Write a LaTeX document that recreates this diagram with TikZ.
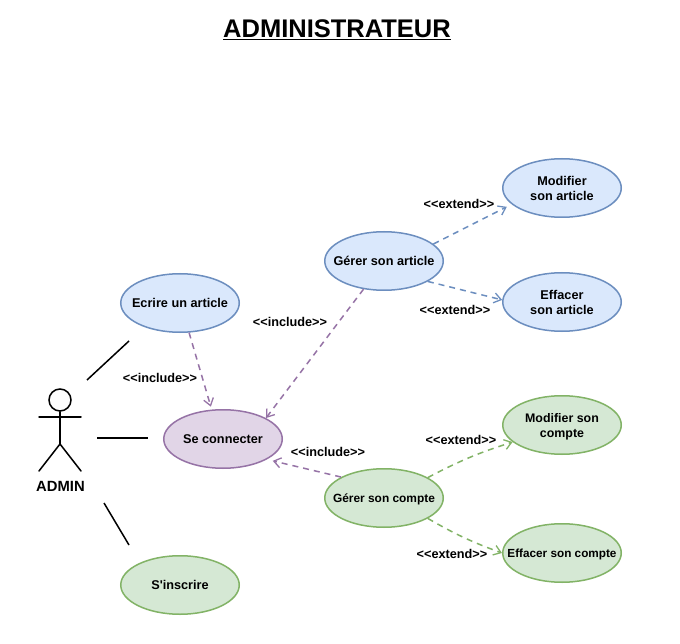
\documentclass[tikz,border=0pt]{standalone}
\usepackage{fontspec}
\usetikzlibrary{shapes.geometric,arrows.meta}
\newfontfamily\labfont{Liberation Sans}
\definecolor{bfill}{HTML}{DAE8FC}\definecolor{bline}{HTML}{6C8EBF}
\definecolor{pfill}{HTML}{E1D5E7}\definecolor{pline}{HTML}{9673A6}
\definecolor{gfill}{HTML}{D5E8D4}\definecolor{gline}{HTML}{82B366}
\newcommand{\tl}{\rule[-3pt]{0pt}{15.5pt}}
\tikzset{
  x=1pt,y=-1pt,
  usecase/.style={ellipse,draw,line width=1.5pt,minimum width=118.5pt,minimum height=58.5pt,inner xsep=-30pt,inner ysep=0pt,align=center,font=\labfont\bfseries\fontsize{12.7}{15}\selectfont,text=black},
  bluecase/.style={usecase,fill=bfill,draw=bline},
  purplecase/.style={usecase,fill=pfill,draw=pline},
  greencase/.style={usecase,fill=gfill,draw=gline},
  dep/.style={dash pattern=on 6pt off 5pt,line width=1.5pt,-{Straight Barb[length=7pt,width=10pt,line width=1.3pt]}},
  lbl/.style={font=\labfont\bfseries\fontsize{12.7}{14}\selectfont,inner sep=0pt,text=black},
  assoc/.style={line width=1.5pt,black},
  stick/.style={line width=1.5pt,black,line cap=round}
}
\begin{document}
\begin{tikzpicture}
\useasboundingbox (0,0) rectangle (680,644);
\fill[white] (0,0) rectangle (680,644);
\node[inner sep=0pt,font=\labfont\bfseries\fontsize{25.5}{28}\selectfont] (title) at (337,30) {\underline{ADMINISTRATEUR}};
\node[bluecase] (ecrire) at (180,303) {\tl Ecrire un article};
\node[purplecase] (conn) at (223,439) {\tl Se connecter};
\node[bluecase] (garticle) at (384,261) {\tl Gérer son article};
\node[bluecase] (marticle) at (562,188) {\tl Modifier\\[-1.5pt]\tl son article};
\node[bluecase] (earticle) at (562,302) {\tl Effacer\\[-1.5pt]\tl son article};
\node[greencase,font=\labfont\bfseries\fontsize{11.9}{15}\selectfont] (gcompte) at (384,498) {\tl Gérer son compte};
\node[greencase,font=\labfont\bfseries\fontsize{12.4}{15}\selectfont] (mcompte) at (562,425) {\tl Modifier son\\[-1.5pt]\tl compte};
\node[greencase,font=\labfont\bfseries\fontsize{11.75}{15}\selectfont] (ecompte) at (562,553) {\tl Effacer son compte};
\node[greencase] (inscr) at (180,585) {\tl S'inscrire};
\draw[dep,pline,shorten >=3pt] (ecrire.-73) -- (conn.111.5);
\draw[dep,pline] (garticle.-126) -- (conn.26.6);
\draw[dep,pline,shorten >=6pt] (gcompte.154) -- (conn.-25);
\draw[dep,bline,shorten >=5.5pt] (garticle.19.4) -- (marticle.198.3);
\draw[dep,bline] (garticle.-25.5) -- (earticle.178);
\draw[dep,gline] (gcompte.25.5) to[bend left=5] (mcompte.199);
\draw[dep,gline] (gcompte.-25.5) to[bend right=5] (ecompte.180);
\node[lbl] (l1) at (160,377.6) {<{}<include>{}>};
\node[lbl] (l2) at (290,321.6) {<{}<include>{}>};
\node[lbl] (l3) at (328,451.6) {<{}<include>{}>};
\node[lbl] (l4) at (459,203.6) {<{}<extend>{}>};
\node[lbl] (l5) at (455,309.6) {<{}<extend>{}>};
\node[lbl] (l6) at (461,439.6) {<{}<extend>{}>};
\node[lbl] (l7) at (452,553.6) {<{}<extend>{}>};
% actor
\node[circle,draw,line width=1.5pt,minimum size=22pt,inner sep=0pt] (head) at (60,400) {};
\coordinate (larm) at (39,417);
\coordinate (rarm) at (81,417);
\coordinate (hip) at (60,444);
\coordinate (lleg) at (39,471);
\coordinate (rleg) at (81,471);
\draw[stick] (head.south) -- (hip);
\draw[stick] (larm) -- (rarm);
\draw[stick] (lleg) -- (hip) -- (rleg);
\node[lbl,font=\labfont\bfseries\fontsize{14.8}{16}\selectfont] (admin) at (60.5,486) {ADMIN};
% associations
\coordinate (a1) at (87,380);\coordinate (b1) at (129,341);
\coordinate (a2) at (97,438);\coordinate (b2) at (148,438);
\coordinate (a3) at (104,503);\coordinate (b3) at (129,545);
\draw[assoc] (a1) -- (b1);
\draw[assoc] (a2) -- (b2);
\draw[assoc] (a3) -- (b3);
\end{tikzpicture}
\end{document}
